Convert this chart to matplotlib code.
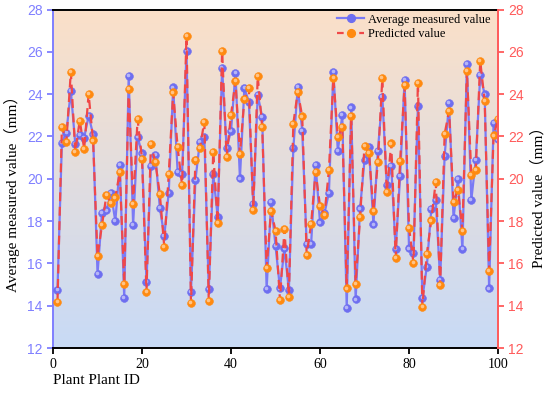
import numpy as np
import matplotlib

matplotlib.use("Agg")
import matplotlib.pyplot as plt
from matplotlib.lines import Line2D
from matplotlib import transforms

plt.rcParams.update({
    "font.family": ["Liberation Serif", "Noto Sans CJK SC"],
    "font.size": 10,
})

plant_id = np.arange(1, 101)
measured = [
    14.74, 21.71, 22.18, 24.16, 21.64, 22.07, 21.94, 22.98, 22.10, 15.50,
    18.37, 18.50, 19.34, 17.99, 20.65, 14.38, 24.86, 17.82, 21.98, 21.20,
    15.14, 20.60, 21.12, 18.63, 17.30, 19.34, 24.32, 20.33, 20.21, 26.05,
    14.67, 19.94, 21.75, 21.99, 14.79, 20.22, 18.21, 25.22, 21.47, 22.26,
    25.01, 20.02, 24.28, 23.65, 18.81, 23.96, 22.93, 14.79, 18.89, 16.82,
    14.82, 16.71, 14.74, 21.44, 24.35, 22.27, 16.92, 16.92, 20.67, 17.94,
    18.37, 19.34, 25.06, 21.31, 23.01, 13.88, 23.37, 14.30, 18.60, 20.89,
    21.49, 17.84, 21.33, 23.88, 19.71, 20.60, 16.68, 20.13, 24.67, 16.71,
    16.51, 23.44, 14.35, 15.85, 18.56, 19.00, 15.22, 21.08, 23.60, 18.13,
    19.99, 16.67, 25.42, 19.00, 20.89, 24.90, 23.99, 14.82, 22.62, 21.86,
]
predicted = [
    14.16, 22.46, 21.75, 25.06, 21.28, 22.75, 21.42, 24.00, 21.81, 16.35,
    17.80, 19.23, 18.87, 19.12, 20.32, 15.01, 24.26, 18.81, 22.82, 20.95,
    14.67, 21.64, 20.78, 19.28, 16.79, 20.21, 24.08, 21.49, 19.70, 26.76,
    14.14, 20.89, 21.44, 22.70, 14.22, 21.28, 17.90, 26.05, 21.04, 23.02,
    24.62, 21.16, 23.77, 24.31, 18.52, 24.86, 22.46, 15.80, 18.49, 17.55,
    14.27, 17.61, 14.43, 22.60, 24.12, 22.95, 16.41, 17.86, 20.33, 18.71,
    18.29, 20.41, 24.78, 21.97, 22.46, 14.82, 22.98, 15.04, 18.18, 21.56,
    21.23, 18.48, 20.78, 24.75, 19.36, 21.67, 16.27, 20.84, 24.43, 17.69,
    16.02, 24.54, 13.96, 16.45, 18.03, 19.86, 14.97, 22.12, 23.20, 18.92,
    19.48, 17.55, 25.11, 20.19, 20.41, 25.57, 23.67, 15.66, 22.05, 22.81,
]

BLUE_LINE = "#7a7af5"
BLUE_DOT = "#6e6ef0"
RED_LINE = "#f04848"
ORANGE_DOT = "#ff8a10"
LEFT_C = "#7f7fff"
RIGHT_C = "#ff5a5a"
TICK_FONT = "Liberation Sans"

fig = plt.figure(figsize=(5.5, 3.98), dpi=100)
ax = fig.add_axes([0.0964, 0.1256, 0.8091, 0.8505])

# vertical gradient background (peach on top -> light blue at bottom)
top = np.array([251, 224, 200]) / 255
bot = np.array([200, 218, 246]) / 255
t = np.linspace(0, 1, 256)[:, None]
grad = (top * (1 - t) + bot * t)[:, None, :]
ax.imshow(grad, aspect="auto", extent=[0, 1, 0, 1], transform=ax.transAxes,
          zorder=0, interpolation="bicubic")


def balls(x, y, color, z):
    # shaded sphere look: base dot + small highlight nudged up-left
    ax.plot(x, y, ls="none", marker="o", ms=5.6, mfc=color, mec=color,
            mew=0.4, zorder=z)
    off = transforms.ScaledTranslation(-0.6 / 72, 0.6 / 72, fig.dpi_scale_trans)
    ax.plot(x, y, ls="none", marker="o", ms=2.6, mfc="white", mec="none",
            alpha=0.5, zorder=z + 0.1, transform=ax.transData + off)


ax.plot(plant_id, measured, color=BLUE_LINE, lw=1.6, zorder=3)
balls(plant_id, measured, BLUE_DOT, 4)
ax.plot(plant_id, predicted, color=RED_LINE, lw=1.6, ls=(0, (4, 2.5)), zorder=5)
balls(plant_id, predicted, ORANGE_DOT, 6)

ax.set_xlim(0, 100)
ax.set_ylim(12, 28)
ax.set_xticks([0, 20, 40, 60, 80, 100])
ax.set_yticks(np.arange(12, 29, 2))
ax.tick_params(axis="x", direction="out", length=4, width=1.3, colors="black")
ax.tick_params(axis="y", direction="out", length=4, width=1.3,
               color=LEFT_C, labelcolor=LEFT_C)
for lab in ax.get_yticklabels():
    lab.set_fontfamily(TICK_FONT)
ax.spines["left"].set_color(LEFT_C)
ax.spines["right"].set_visible(False)
for s in ("left", "top", "bottom"):
    ax.spines[s].set_linewidth(1.4)
ax.set_ylabel("Average measured value（mm）", fontsize=11)
ax.yaxis.set_label_coords(-0.075, 0.467)
ax.set_xlabel("Plant Plant ID", fontsize=11, loc="left", labelpad=2)

ax2 = ax.twinx()
ax2.set_ylim(12, 28)
ax2.set_yticks(np.arange(12, 29, 2))
ax2.tick_params(axis="y", direction="out", length=4, width=1.3,
                color=RIGHT_C, labelcolor=RIGHT_C)
for lab in ax2.get_yticklabels():
    lab.set_fontfamily(TICK_FONT)
ax2.spines["right"].set_color(RIGHT_C)
ax2.spines["right"].set_linewidth(1.4)
for s in ("left", "top", "bottom"):
    ax2.spines[s].set_visible(False)
ax2.set_ylabel("Predicted value（mm）", fontsize=11)
ax2.yaxis.set_label_coords(1.075, 0.455)

handles = [
    Line2D([], [], color=BLUE_LINE, lw=1.6, marker="o", ms=5.6,
           mfc=BLUE_DOT, mec=BLUE_DOT),
    Line2D([], [], color=RED_LINE, lw=1.6, ls=(0, (3, 2)), marker="o", ms=5.6,
           mfc=ORANGE_DOT, mec=ORANGE_DOT),
]
ax2.legend(handles, ["Average measured value", "Predicted value"],
           loc="upper right", frameon=False, fontsize=9, handlelength=2.2,
           handletextpad=0.3, labelspacing=0.2, borderaxespad=0.2,
           bbox_to_anchor=(1.0, 1.01))

fig.savefig("out.png", dpi=100)
